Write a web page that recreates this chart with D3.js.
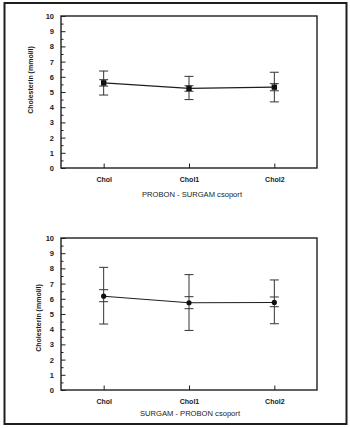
<!DOCTYPE html>
<html>
<head>
<meta charset="utf-8">
<script src="https://cdn.jsdelivr.net/npm/d3@7"></script>
<style>
  html, body { margin: 0; padding: 0; background: #fff; }
  svg { display: block; }
  text { font-family: "Liberation Sans", Arial, sans-serif; fill: #1a1a1a; }
</style>
</head>
<body>
<svg id="chart" width="350" height="428"></svg>
<script>
// Categories shared by both panels
const categories = ["Chol", "Chol1", "Chol2"];
const yTicks = [0, 1, 2, 3, 4, 5, 6, 7, 8, 9, 10];

// PROBON - SURGAM group: mean, standard error and standard deviation limits
const probonMean   = [5.6, 5.24, 5.32];
const probonSeLow  = [5.39, 5.05, 5.08];
const probonSeHigh = [5.81, 5.41, 5.55];
const probonSdLow  = [4.8, 4.5, 4.35];
const probonSdHigh = [6.38, 6.03, 6.3];

// SURGAM - PROBON group
const surgamMean   = [6.17, 5.74, 5.76];
const surgamSeLow  = [5.81, 5.35, 5.48];
const surgamSeHigh = [6.6, 6.14, 6.12];
const surgamSdLow  = [4.34, 3.92, 4.36];
const surgamSdHigh = [8.07, 7.59, 7.24];

const yLabel = "Cholesterin (mmol/l)";
const titles = ["PROBON - SURGAM csoport", "SURGAM - PROBON csoport"];

const svg = d3.select("#chart");
const ink = "#1e1e1e";
const font = "Liberation Sans, Arial, sans-serif";

// outer frame around the whole figure
svg.append("rect")
  .attr("x", 4.5).attr("y", 3).attr("width", 342).attr("height", 421)
  .attr("fill", "none").attr("stroke", ink).attr("stroke-width", 2);

function drawPanel(opts) {
  const left = 61, right = 317;
  const top = opts.top, bottom = opts.bottom;

  const x = d3.scalePoint().domain(categories).range([left, right]).padding(0.5);
  const y = d3.scaleLinear().domain([0, 10]).range([bottom, top]);

  const g = svg.append("g");

  // minor ticks at half units
  g.append("g")
    .attr("transform", `translate(${left},0)`)
    .call(d3.axisLeft(y).tickValues(d3.range(0.5, 10, 1)).tickSize(-2.5).tickFormat(""))
    .call(a => a.select(".domain").remove())
    .call(a => a.selectAll("line").attr("stroke", ink));

  // major ticks with labels
  g.append("g")
    .attr("transform", `translate(${left},0)`)
    .call(d3.axisLeft(y).tickValues(yTicks).tickSize(-4.5).tickPadding(7).tickFormat(d3.format("d")))
    .call(a => a.select(".domain").remove())
    .call(a => a.selectAll("line").attr("stroke", ink))
    .call(a => a.selectAll("text")
      .attr("font-size", 7.5).attr("font-weight", "bold")
      .attr("font-family", font).attr("fill", ink));

  // category axis, ticks pointing into the plot
  g.append("g")
    .attr("transform", `translate(0,${bottom})`)
    .call(d3.axisBottom(x).tickSize(-4.5).tickPadding(9))
    .call(a => a.select(".domain").remove())
    .call(a => a.selectAll("line").attr("stroke", ink))
    .call(a => a.selectAll("text")
      .attr("font-size", 7).attr("font-weight", "bold")
      .attr("font-family", font).attr("fill", ink));

  // plot box
  g.append("rect")
    .attr("x", left).attr("y", top).attr("width", right - left).attr("height", bottom - top)
    .attr("fill", "none").attr("stroke", ink).attr("stroke-width", 1.4);

  // y axis title
  g.append("text")
    .attr("transform", `translate(${opts.labelX},${opts.labelY}) rotate(-90)`)
    .attr("text-anchor", "middle")
    .attr("font-family", font).attr("fill", ink)
    .attr("font-size", 7).attr("font-weight", "bold")
    .text(yLabel);

  // group title below the axis
  g.append("text")
    .attr("x", opts.titleX).attr("y", opts.titleY)
    .attr("text-anchor", "middle")
    .attr("font-family", font).attr("fill", ink)
    .attr("font-size", 7.6)
    .text(opts.title);

  const rows = categories.map((c, i) => ({
    c, mean: opts.mean[i], seLow: opts.seLow[i], seHigh: opts.seHigh[i],
    sdLow: opts.sdLow[i], sdHigh: opts.sdHigh[i]
  }));

  const cap = 4.5;
  const bars = g.append("g").attr("stroke", "#333").attr("stroke-width", 1);
  rows.forEach(d => {
    const cx = x(d.c);
    bars.append("line").attr("x1", cx).attr("x2", cx).attr("y1", y(d.sdLow)).attr("y2", y(d.sdHigh));
    [d.sdLow, d.sdHigh, d.seLow, d.seHigh].forEach(v => {
      bars.append("line").attr("x1", cx - cap).attr("x2", cx + cap).attr("y1", y(v)).attr("y2", y(v));
    });
  });

  // mean line
  g.append("path")
    .datum(rows)
    .attr("fill", "none").attr("stroke", ink).attr("stroke-width", 1.1)
    .attr("d", d3.line().x(d => x(d.c)).y(d => y(d.mean)));

  // mean markers
  if (opts.marker === "square") {
    g.selectAll(".m").data(rows).join("rect")
      .attr("x", d => x(d.c) - 2.7).attr("y", d => y(d.mean) - 2.7)
      .attr("width", 5.4).attr("height", 5.4).attr("fill", "#111");
  } else {
    g.selectAll(".m").data(rows).join("circle")
      .attr("cx", d => x(d.c)).attr("cy", d => y(d.mean)).attr("r", 2.6).attr("fill", "#111");
  }
}

drawPanel({
  top: 16, bottom: 168,
  mean: probonMean, seLow: probonSeLow, seHigh: probonSeHigh, sdLow: probonSdLow, sdHigh: probonSdHigh,
  marker: "square", title: titles[0], titleX: 192, titleY: 197,
  labelX: 33, labelY: 80
});

drawPanel({
  top: 238, bottom: 390,
  mean: surgamMean, seLow: surgamSeLow, seHigh: surgamSeHigh, sdLow: surgamSdLow, sdHigh: surgamSdHigh,
  marker: "circle", title: titles[1], titleX: 190, titleY: 416,
  labelX: 41, labelY: 318
});
</script>
</body>
</html>
